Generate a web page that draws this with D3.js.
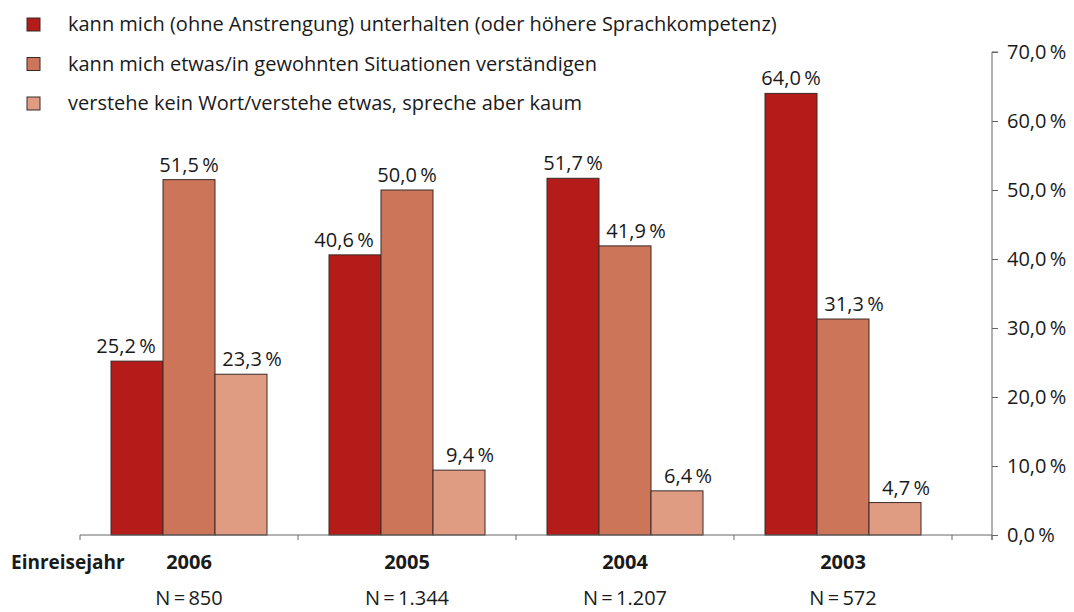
<!DOCTYPE html>
<html lang="de">
<head>
<meta charset="UTF-8">
<title>Sprachkompetenz nach Einreisejahr</title>
<style>
  body { margin: 0; background: #fff; }
  svg text { font-family: "Open Sans", "DejaVu Sans", sans-serif; fill: #1a1a1a; }
</style>
</head>
<body>
<div class="container"></div>
<script src="https://cdn.jsdelivr.net/npm/d3@7/dist/d3.min.js"></script>
<script>
// Data
const years = ["2006", "2005", "2004", "2003"]
const sampleSizes = ["850", "1.344", "1.207", "572"]
const seriesNames = [
  "kann mich (ohne Anstrengung) unterhalten (oder höhere Sprachkompetenz)",
  "kann mich etwas/in gewohnten Situationen verständigen",
  "verstehe kein Wort/verstehe etwas, spreche aber kaum"
]
const fluent = [25.2, 40.6, 51.7, 64.0]
const some = [51.5, 50.0, 41.9, 31.3]
const none = [23.3, 9.4, 6.4, 4.7]
const yTicks = [0, 10, 20, 30, 40, 50, 60, 70]

const series = [fluent, some, none]
const colors = ["#b31c18", "#cd7559", "#e09c82"]

const width = 1074
const height = 612
const plotLeft = 80, plotRight = 992, plotTop = 52, plotBottom = 535
const fontSize = 20

const svg = d3.select(".container").append("svg")
  .attr("width", width)
  .attr("height", height)

const fmt = v => v.toFixed(1).replace(".", ",") + "\u2009%"

// Scales
const x = d3.scaleBand().domain(years).range([plotLeft, 952])
const xInner = d3.scaleBand().domain([0, 1, 2]).range([0, 156])
const innerOffset = (x.bandwidth() - 156) / 2
const y = d3.scaleLinear().domain([0, 70]).range([plotBottom, plotTop])

// push a value label away from a taller neighbouring bar
function labelShift(s, i) {
  const v = series[s][i]
  if (s < 2 && series[s + 1][i] > v) return -11
  if (s > 0 && series[s - 1][i] > v) return 11
  return 0
}

// Bars
series.forEach((vals, s) => {
  const g = svg.append("g")
  g.selectAll("rect").data(vals).join("rect")
    .attr("x", (d, i) => x(years[i]) + innerOffset + xInner(s))
    .attr("y", d => y(d))
    .attr("width", xInner.bandwidth())
    .attr("height", d => y(0) - y(d))
    .attr("fill", colors[s])
    .attr("stroke", "#3a2a28")
    .attr("stroke-width", 1)

  g.selectAll("text").data(vals).join("text")
    .attr("x", (d, i) => x(years[i]) + innerOffset + xInner(s) + xInner.bandwidth() / 2 + labelShift(s, i))
    .attr("y", d => y(d) - 8)
    .attr("text-anchor", "middle")
    .attr("font-size", fontSize)
    .text(fmt)
})

// Bottom axis
svg.append("line")
  .attr("x1", plotLeft).attr("x2", plotRight)
  .attr("y1", plotBottom).attr("y2", plotBottom)
  .attr("stroke", "#666")
const boundaries = years.map(d => x(d)).concat([x.range()[1], plotRight])
svg.selectAll(".xtick").data(boundaries).join("line")
  .attr("class", "xtick")
  .attr("x1", d => d).attr("x2", d => d)
  .attr("y1", plotBottom).attr("y2", plotBottom + 5)
  .attr("stroke", "#666")

svg.selectAll(".year").data(years).join("text")
  .attr("class", "year")
  .attr("x", d => x(d) + x.bandwidth() / 2)
  .attr("y", 569)
  .attr("text-anchor", "middle")
  .attr("font-size", fontSize)
  .attr("font-weight", "bold")
  .text(d => d)

svg.append("text")
  .attr("x", 11).attr("y", 569)
  .attr("font-size", 19)
  .attr("font-weight", "bold")
  .text("Einreisejahr")

svg.selectAll(".nlab").data(sampleSizes).join("text")
  .attr("class", "nlab")
  .attr("x", (d, i) => x(years[i]) + x.bandwidth() / 2)
  .attr("y", 605)
  .attr("text-anchor", "middle")
  .attr("font-size", fontSize)
  .text(d => "N\u2009=\u2009" + d)

// Right axis
const rightAxis = d3.axisRight(y).tickValues(yTicks).tickSize(6).tickPadding(9)
  .tickFormat(fmt)
svg.append("g")
  .attr("transform", `translate(${plotRight},0)`)
  .call(rightAxis)
  .call(g => g.select(".domain").attr("d", `M6,${plotTop}H0V${plotBottom + 5}`).attr("stroke", "#666"))
  .call(g => g.selectAll(".tick line").attr("stroke", "#666"))
  .call(g => g.selectAll(".tick text")
    .attr("font-size", fontSize)
    .attr("fill", "#1a1a1a")
    .style("font-family", "'Open Sans', sans-serif"))

// Legend
const legend = svg.append("g")
legend.selectAll("rect").data(seriesNames).join("rect")
  .attr("x", 27)
  .attr("y", (d, i) => 18 + i * 39.5)
  .attr("width", 13).attr("height", 13)
  .attr("fill", (d, i) => colors[i])
  .attr("stroke", "#3a2a28")
legend.selectAll("text").data(seriesNames).join("text")
  .attr("x", 68)
  .attr("y", (d, i) => 31 + i * 39.5)
  .attr("font-size", fontSize)
  .text(d => d)
</script>
</body>
</html>
